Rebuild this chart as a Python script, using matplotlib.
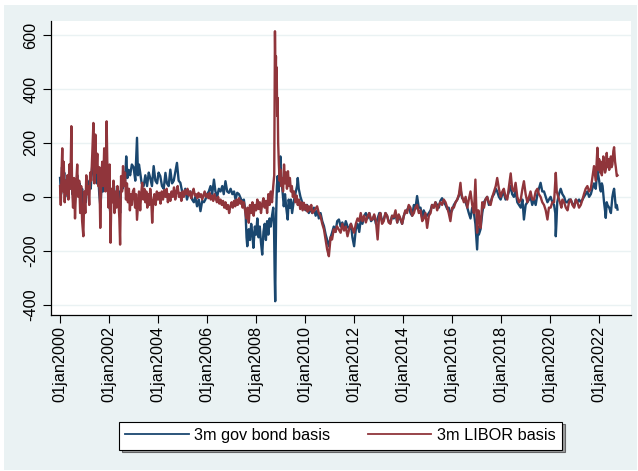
import matplotlib
matplotlib.use("Agg")
import matplotlib.pyplot as plt
from matplotlib.patches import Rectangle
from matplotlib.lines import Line2D

# ---------------- data (decimal years, basis points) ----------------
gov_years = [
    2000.00, 2000.04, 2000.08, 2000.12, 2000.17, 2000.21, 2000.25, 2000.30, 2000.35, 2000.40,
    2000.45, 2000.50, 2000.55, 2000.60, 2000.65, 2000.70, 2000.75, 2000.80, 2000.85, 2000.90,
    2000.95, 2001.00, 2001.05, 2001.10, 2001.15, 2001.20, 2001.25, 2001.30, 2001.35, 2001.40,
    2001.45, 2001.50, 2001.55, 2001.60, 2001.65, 2001.70, 2001.75, 2001.80, 2001.85, 2001.90,
    2001.95, 2002.00, 2002.05, 2002.10, 2002.15, 2002.20, 2002.25, 2002.30, 2002.35, 2002.40,
    2002.45, 2002.50, 2002.55, 2002.60, 2002.65, 2002.70, 2002.75, 2002.80, 2002.86, 2002.93,
    2003.00, 2003.07, 2003.14, 2003.18, 2003.22, 2003.27, 2003.33, 2003.41, 2003.48, 2003.55,
    2003.62, 2003.68, 2003.75, 2003.82, 2003.89, 2003.96, 2004.02, 2004.09, 2004.16, 2004.23,
    2004.30, 2004.36, 2004.43, 2004.50, 2004.57, 2004.64, 2004.70, 2004.77, 2004.84, 2004.91,
    2004.98, 2005.05, 2005.11, 2005.18, 2005.25, 2005.32, 2005.39, 2005.46, 2005.52, 2005.59,
    2005.66, 2005.73, 2005.80, 2005.87, 2005.93, 2006.00, 2006.07, 2006.14, 2006.21, 2006.28,
    2006.34, 2006.41, 2006.48, 2006.55, 2006.62, 2006.68, 2006.75, 2006.82, 2006.89, 2006.96,
    2007.03, 2007.10, 2007.16, 2007.23, 2007.30, 2007.37, 2007.44, 2007.50, 2007.57, 2007.61,
    2007.64, 2007.70, 2007.75, 2007.80, 2007.85, 2007.89, 2007.95, 2008.00, 2008.05, 2008.10,
    2008.15, 2008.20, 2008.25, 2008.30, 2008.35, 2008.40, 2008.45, 2008.50, 2008.55, 2008.60,
    2008.65, 2008.70, 2008.73, 2008.76, 2008.78, 2008.80, 2008.82, 2008.85, 2008.88, 2008.92,
    2008.96, 2008.99, 2009.03, 2009.08, 2009.13, 2009.18, 2009.23, 2009.29, 2009.33, 2009.38,
    2009.42, 2009.47, 2009.53, 2009.60, 2009.67, 2009.70, 2009.74, 2009.81, 2009.88, 2009.95,
    2010.02, 2010.08, 2010.15, 2010.22, 2010.29, 2010.36, 2010.43, 2010.50, 2010.56, 2010.63,
    2010.70, 2010.77, 2010.84, 2010.90, 2010.97, 2011.04, 2011.10, 2011.17, 2011.24, 2011.31,
    2011.38, 2011.45, 2011.52, 2011.59, 2011.66, 2011.73, 2011.80, 2011.87, 2011.93, 2012.00,
    2012.07, 2012.14, 2012.21, 2012.27, 2012.34, 2012.41, 2012.48, 2012.55, 2012.62, 2012.69,
    2012.75, 2012.82, 2012.89, 2012.96, 2013.03, 2013.07, 2013.14, 2013.21, 2013.28, 2013.35,
    2013.41, 2013.48, 2013.55, 2013.62, 2013.69, 2013.76, 2013.82, 2013.89, 2013.96, 2014.03,
    2014.09, 2014.16, 2014.23, 2014.30, 2014.37, 2014.44, 2014.50, 2014.57, 2014.64, 2014.71,
    2014.78, 2014.84, 2014.91, 2014.98, 2015.05, 2015.12, 2015.18, 2015.25, 2015.32, 2015.39,
    2015.46, 2015.52, 2015.59, 2015.66, 2015.73, 2015.80, 2015.86, 2015.93, 2016.00, 2016.07,
    2016.14, 2016.21, 2016.28, 2016.34, 2016.41, 2016.48, 2016.55, 2016.62, 2016.68, 2016.75,
    2016.82, 2016.89, 2016.95, 2017.02, 2017.06, 2017.09, 2017.16, 2017.23, 2017.30, 2017.36,
    2017.43, 2017.50, 2017.57, 2017.64, 2017.71, 2017.78, 2017.84, 2017.91, 2017.98, 2018.05,
    2018.11, 2018.18, 2018.25, 2018.32, 2018.39, 2018.45, 2018.52, 2018.59, 2018.66, 2018.73,
    2018.80, 2018.87, 2018.93, 2019.00, 2019.07, 2019.14, 2019.20, 2019.27, 2019.34, 2019.41,
    2019.48, 2019.54, 2019.61, 2019.68, 2019.75, 2019.82, 2019.89, 2019.95, 2020.02, 2020.09,
    2020.16, 2020.21, 2020.23, 2020.26, 2020.29, 2020.36, 2020.43, 2020.50, 2020.57, 2020.64,
    2020.71, 2020.77, 2020.84, 2020.91, 2020.98, 2021.05, 2021.11, 2021.18, 2021.25, 2021.32,
    2021.38, 2021.45, 2021.52, 2021.59, 2021.66, 2021.72, 2021.79, 2021.86, 2021.93, 2022.00,
    2022.04, 2022.07, 2022.11, 2022.14, 2022.17, 2022.20, 2022.24, 2022.27, 2022.31, 2022.34,
    2022.41, 2022.48, 2022.54, 2022.58, 2022.61, 2022.65, 2022.68, 2022.72, 2022.75,
]
gov_values = [
    70, 10, 110, 40, 90, 0, 60, 20, 80, 30,
    100, 10, 50, -30, 40, 80, 10, 50, -20, 30,
    -50, 10, -20, 50, 20, 60, 30, 100, 150, 60,
    120, 50, 90, 10, -40, 60, 20, 100, 30, 150,
    40, -10, -60, 20, -10, 40, -20, 10, -30, 20,
    -60, 60, 30, 90, 50, 150, 70, 100, 80, 120,
    110, 60, 219, 80, 120, 90, 50, 40, 80, 40,
    90, 70, 40, 114, 60, 50, 90, 77, 40, 30,
    89, 50, 40, 101, 50, 60, 90, 126, 60, 52,
    20, 10, 30, -10, 15, 20, -10, -20, 0, -35,
    -10, -53, -15, -20, -10, 10, 20, 40, 10, 64,
    20, 0, 30, 20, 40, 10, 58, 20, 15, 30,
    10, 20, -10, 15, 10, -5, -20, -10, -60, -150,
    -183, -120, -160, -100, -140, -189, -110, -140, -80, -150,
    -110, -170, -214, -130, -100, -160, -90, -140, -80, -110,
    -70, -40, -100, -300, -387, -200, -60, 40, 77, 20,
    100, 150, 64, 20, -35, 10, -40, -84, -10, -40,
    -10, -60, -20, 10, 40, 70, 30, 0, -20, -35,
    -50, -30, -60, -45, -60, -40, -70, -50, -80, -60,
    -90, -109, -140, -160, -183, -150, -133, -110, -130, -90,
    -84, -110, -95, -120, -90, -109, -120, -100, -150, -183,
    -120, -100, -130, -84, -100, -70, -60, -80, -60, -90,
    -84, -70, -100, -80, -60, -60, -90, -84, -60, -72,
    -90, -96, -70, -80, -60, -95, -70, -84, -100, -70,
    -55, -50, -35, -60, -70, -30, -45, 3, -40, -40,
    -80, -50, -65, -70, -60, -50, -30, -40, -20, -30,
    -40, -15, -5, -20, -30, -45, -40, -60, -50, -30,
    -20, -10, 5, 30, -5, -10, -20, -40, -60, -80,
    -40, -60, -100, -195, -110, -140, -120, -60, -20, -10,
    0, -30, -20, 0, 10, 30, 20, 0, -10, 10,
    15, -10, 0, 20, 40, 10, 0, 20, -20, -30,
    -40, -10, -84, -30, -20, -10, 0, -30, -10, -30,
    10, 30, 52, 20, 20, 0, -20, -10, 0, -20,
    -30, -60, -146, -90, -20, 10, 30, 10, 0, -20,
    -20, -10, -10, -25, -35, -10, -20, -10, -20, -10,
    0, 10, 20, 0, 10, 30, 50, 30, 101, 60,
    30, 20, 50, 40, 10, -20, -50, -78, -20, -30,
    -40, -60, 0, 20, 30, -10, -40, -30, -47,
]

libor_years = [
    2000.00, 2000.03, 2000.06, 2000.09, 2000.12, 2000.15, 2000.19, 2000.22, 2000.26, 2000.30,
    2000.34, 2000.38, 2000.42, 2000.46, 2000.49, 2000.53, 2000.57, 2000.61, 2000.65, 2000.70,
    2000.74, 2000.78, 2000.82, 2000.86, 2000.90, 2000.95, 2000.99, 2001.03, 2001.07, 2001.11,
    2001.15, 2001.19, 2001.23, 2001.27, 2001.31, 2001.36, 2001.40, 2001.44, 2001.48, 2001.52,
    2001.56, 2001.60, 2001.64, 2001.68, 2001.72, 2001.76, 2001.80, 2001.85, 2001.90, 2001.94,
    2001.98, 2002.02, 2002.06, 2002.10, 2002.14, 2002.18, 2002.22, 2002.26, 2002.30, 2002.34,
    2002.38, 2002.42, 2002.45, 2002.49, 2002.53, 2002.57, 2002.61, 2002.65, 2002.69, 2002.73,
    2002.77, 2002.81, 2002.85, 2002.89, 2002.93, 2002.97, 2003.02, 2003.06, 2003.10, 2003.14,
    2003.18, 2003.22, 2003.27, 2003.31, 2003.35, 2003.40, 2003.44, 2003.48, 2003.52, 2003.56,
    2003.60, 2003.64, 2003.68, 2003.72, 2003.76, 2003.80, 2003.85, 2003.90, 2003.95, 2004.00,
    2004.05, 2004.10, 2004.15, 2004.20, 2004.25, 2004.30, 2004.35, 2004.40, 2004.45, 2004.50,
    2004.55, 2004.60, 2004.65, 2004.70, 2004.75, 2004.80, 2004.85, 2004.90, 2004.95, 2005.00,
    2005.05, 2005.10, 2005.15, 2005.20, 2005.25, 2005.30, 2005.35, 2005.40, 2005.45, 2005.50,
    2005.55, 2005.60, 2005.65, 2005.70, 2005.75, 2005.80, 2005.85, 2005.90, 2005.95, 2006.00,
    2006.05, 2006.10, 2006.15, 2006.20, 2006.25, 2006.30, 2006.35, 2006.40, 2006.45, 2006.50,
    2006.55, 2006.60, 2006.65, 2006.70, 2006.75, 2006.80, 2006.85, 2006.90, 2006.95, 2007.00,
    2007.05, 2007.10, 2007.15, 2007.20, 2007.25, 2007.30, 2007.35, 2007.40, 2007.45, 2007.50,
    2007.55, 2007.60, 2007.65, 2007.70, 2007.75, 2007.80, 2007.85, 2007.90, 2007.95, 2008.00,
    2008.05, 2008.10, 2008.15, 2008.20, 2008.25, 2008.30, 2008.35, 2008.40, 2008.45, 2008.50,
    2008.55, 2008.60, 2008.65, 2008.70, 2008.74, 2008.77, 2008.79, 2008.81, 2008.82, 2008.84,
    2008.86, 2008.88, 2008.90, 2008.93, 2008.96, 2008.99, 2009.02, 2009.06, 2009.10, 2009.14,
    2009.18, 2009.22, 2009.26, 2009.30, 2009.34, 2009.38, 2009.42, 2009.46, 2009.50, 2009.55,
    2009.60, 2009.65, 2009.70, 2009.75, 2009.80, 2009.85, 2009.90, 2009.95, 2010.00, 2010.05,
    2010.10, 2010.15, 2010.20, 2010.25, 2010.30, 2010.36, 2010.42, 2010.49, 2010.56, 2010.63,
    2010.70, 2010.77, 2010.84, 2010.90, 2010.97, 2011.04, 2011.10, 2011.17, 2011.24, 2011.30,
    2011.37, 2011.45, 2011.52, 2011.59, 2011.66, 2011.73, 2011.80, 2011.87, 2011.93, 2012.00,
    2012.07, 2012.14, 2012.21, 2012.27, 2012.34, 2012.41, 2012.48, 2012.55, 2012.62, 2012.69,
    2012.75, 2012.82, 2012.89, 2012.96, 2013.02, 2013.07, 2013.14, 2013.21, 2013.28, 2013.35,
    2013.41, 2013.48, 2013.55, 2013.62, 2013.69, 2013.76, 2013.82, 2013.89, 2013.96, 2014.03,
    2014.09, 2014.16, 2014.23, 2014.30, 2014.37, 2014.44, 2014.50, 2014.57, 2014.64, 2014.71,
    2014.78, 2014.84, 2014.91, 2014.98, 2015.05, 2015.12, 2015.18, 2015.25, 2015.32, 2015.39,
    2015.46, 2015.52, 2015.59, 2015.66, 2015.73, 2015.80, 2015.86, 2015.93, 2016.00, 2016.07,
    2016.14, 2016.21, 2016.28, 2016.34, 2016.38, 2016.48, 2016.55, 2016.62, 2016.68, 2016.75,
    2016.82, 2016.89, 2016.95, 2017.02, 2017.07, 2017.12, 2017.16, 2017.23, 2017.30, 2017.36,
    2017.43, 2017.50, 2017.57, 2017.64, 2017.71, 2017.78, 2017.84, 2017.91, 2017.98, 2018.05,
    2018.11, 2018.18, 2018.25, 2018.32, 2018.39, 2018.45, 2018.52, 2018.59, 2018.66, 2018.73,
    2018.80, 2018.87, 2018.93, 2019.00, 2019.07, 2019.14, 2019.20, 2019.27, 2019.34, 2019.41,
    2019.48, 2019.54, 2019.61, 2019.68, 2019.75, 2019.82, 2019.89, 2019.95, 2020.02, 2020.09,
    2020.16, 2020.23, 2020.27, 2020.33, 2020.40, 2020.46, 2020.50, 2020.57, 2020.64, 2020.71,
    2020.77, 2020.84, 2020.91, 2020.98, 2021.05, 2021.11, 2021.18, 2021.25, 2021.32, 2021.38,
    2021.45, 2021.52, 2021.59, 2021.66, 2021.72, 2021.79, 2021.86, 2021.93, 2021.97, 2022.00,
    2022.04, 2022.07, 2022.11, 2022.14, 2022.17, 2022.20, 2022.24, 2022.27, 2022.31, 2022.34,
    2022.38, 2022.41, 2022.45, 2022.48, 2022.51, 2022.54, 2022.58, 2022.61, 2022.65, 2022.68,
    2022.72, 2022.75,
]
libor_values = [
    40, -30, 90, 180, 20, 130, -20, 60, 10, 80,
    -10, 120, 30, 262, 40, -40, 70, -80, 30, 120,
    0, 60, -60, 40, -90, -146, 20, -60, 80, 10,
    40, -30, 90, 60, 150, 274, 50, 231, 90, 160,
    40, 110, -115, 60, 130, 40, 180, 20, 280, 60,
    -40, 120, -170, 30, -20, 60, -60, 20, -40, 40,
    -10, -80, -177, 77, 20, 114, 40, 90, -10, 50,
    -20, 30, -50, 10, -30, 20, 30, -40, 10, -85,
    -30, 20, -50, 10, 52, -10, 30, -20, 20, -40,
    10, -30, 30, -10, -96, -20, 10, -30, 20, -10,
    15, -25, 20, -10, 25, 0, 30, -20, 10, -15,
    20, 0, 35, -10, 20, 40, 0, 15, -15, 20,
    0, 25, 10, 30, 5, 20, -5, 15, 30, 5,
    10, -5, 15, 0, 10, -10, 5, 20, 0, 10,
    -5, 15, -10, 5, -15, 10, -5, -20, 0, -25,
    -10, -30, -15, -40, -20, -45, -30, -60, -35, -20,
    -40, -15, -35, -10, -30, -5, -25, -15, -40, -20,
    -50, -80, -40, -96, -30, -60, -20, -70, -30, -50,
    -10, -45, -20, -60, -25, -5, -40, -15, -60, 10,
    -30, 20, -20, 40, 80, 614, 450, 521, 380, 480,
    300, 367, 200, 120, 60, 101, 40, 70, 20, 120,
    50, 90, 30, 95, 40, 70, 20, 40, 0, 20,
    -20, 5, -30, -10, -45, -20, -50, -22, -47, -30,
    -55, -35, -50, -30, -60, -53, -45, -35, -60, -72,
    -100, -121, -160, -195, -220, -150, -158, -120, -130, -109,
    -120, -133, -100, -125, -110, -146, -120, -100, -115, -133,
    -100, -80, -90, -60, -90, -70, -95, -72, -60, -85,
    -84, -65, -90, -158, -72, -60, -100, -90, -60, -70,
    -95, -100, -70, -75, -50, -95, -65, -80, -100, -70,
    -50, -60, -30, -40, -70, -60, -40, -30, -60, -50,
    -90, -80, -60, -115, -70, -60, -30, -40, -20, -50,
    -30, -20, -30, -10, -20, -40, -60, -90, -40, -40,
    -20, -10, 10, 52, 10, -20, 0, -40, -10, 20,
    -30, -60, 64, -133, -50, -90, -115, -20, -40, -10,
    0, -20, -30, 0, 20, 40, 70, 30, 0, 20,
    30, 0, -10, 40, 87, 30, 20, 52, 0, -20,
    -10, 30, 58, 10, -20, 0, 20, -10, -10, 20,
    30, 10, 0, -20, -30, -50, -84, -40, -40, -20,
    -20, 89, 20, 0, -20, -40, -10, -20, -40, -50,
    -20, -10, -30, -40, -10, -20, -40, -30, -10, 10,
    30, 40, 20, 30, 70, 114, 60, 182, 100, 140,
    90, 130, 80, 110, 150, 120, 90, 100, 163, 110,
    140, 100, 130, 150, 110, 120, 170, 184, 130, 110,
    77, 80,
]

tick_years = [2000, 2002, 2004, 2006, 2008, 2010, 2012, 2014, 2016, 2018, 2020, 2022]
tick_labels = ["01jan%d" % y for y in tick_years]
y_ticks = [-400, -200, 0, 200, 400, 600]
series_labels = ["3m gov bond basis", "3m LIBOR basis"]

# ---------------- style ----------------
W, H = 638, 471
plt.rcParams["font.family"] = ["Liberation Sans", "DejaVu Sans"]
FS = 11.7
NAVY = "#1a476f"
MAROON = "#90353b"
BG = "#eaf2f3"

fig = plt.figure(figsize=(W / 100, H / 100), dpi=100, facecolor="white")
fig.patches.append(Rectangle((4 / W, 1 - 470 / H), 633 / W, 465 / H,
                             transform=fig.transFigure, facecolor=BG,
                             edgecolor="none", zorder=-10))

ax = fig.add_axes([51 / W, 1 - 315 / H, 580 / W, 294 / H])
ax.set_facecolor("white")
ax.plot(gov_years, gov_values, color=NAVY, lw=1.7, zorder=3)
ax.plot(libor_years, libor_values, color=MAROON, lw=1.7, zorder=4)

ax.set_xlim(1999.63, 2023.3)
ax.set_ylim(-438, 652)

ax.set_yticks(y_ticks)
ax.set_yticklabels([str(v) for v in y_ticks], rotation=90, va="center",
                   fontsize=FS)
ax.set_xticks(tick_years)
ax.set_xticklabels(tick_labels, rotation=90, fontsize=FS)

ax.tick_params(axis="y", length=6, width=0.8, pad=3, color="black")
ax.tick_params(axis="x", length=6, width=0.8, pad=2, color="black")
ax.grid(axis="y", color=BG, lw=1.0, zorder=0)
ax.set_axisbelow(True)
for side in ("top", "right"):
    ax.spines[side].set_visible(False)
for side in ("left", "bottom"):
    ax.spines[side].set_linewidth(0.9)
    ax.spines[side].set_color("black")

handles = [Line2D([], [], color=NAVY, lw=1.3), Line2D([], [], color=MAROON, lw=1.3)]
leg = fig.legend(handles, series_labels, loc="center",
                 bbox_to_anchor=(340.5 / W, 1 - 435.5 / H), ncol=2,
                 fontsize=FS, frameon=True, fancybox=False,
                 edgecolor="black", facecolor="white", framealpha=1,
                 handlelength=3.9, handletextpad=0.35, columnspacing=2.3,
                 borderpad=0.4, borderaxespad=0,
                 shadow={"facecolor": "#8a8a8a", "alpha": 0.8})
leg.get_frame().set_linewidth(0.8)

fig.savefig("out.png", dpi=100, facecolor=fig.get_facecolor())
